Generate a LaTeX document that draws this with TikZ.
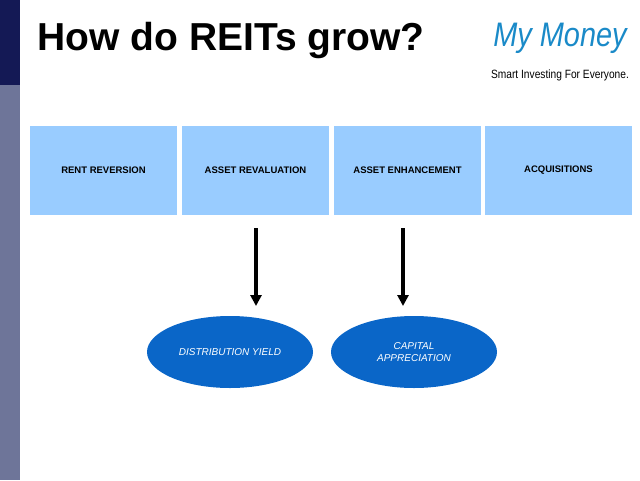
\documentclass[tikz,border=0pt]{standalone}
\usepackage{fontspec}
\setmainfont{Liberation Sans}
\usetikzlibrary{shapes.geometric,arrows.meta}
\definecolor{navy}{HTML}{141955}
\definecolor{slate}{HTML}{6E7599}
\definecolor{boxblue}{HTML}{99CCFF}
\definecolor{ellblue}{HTML}{0A66C8}
\definecolor{logoblue}{HTML}{1A8AC8}
\begin{document}
\begin{tikzpicture}[x=1pt,y=-1pt,
  gbox/.style={fill=boxblue,minimum width=147pt,minimum height=89pt,inner sep=0pt,font=\fontsize{9.5}{11}\selectfont\bfseries,text=black},
  gell/.style={ellipse,fill=ellblue,minimum width=166pt,minimum height=72pt,inner sep=0pt,text=white,font=\fontsize{10}{12}\selectfont\itshape,align=center},
  arr/.style={line width=3.5pt,-{Triangle[length=11pt,width=11pt]}}]
\useasboundingbox (0,0) rectangle (640,480);
\fill[white] (0,0) rectangle (640,480);
\fill[navy] (0,0) rectangle (20,85);
\fill[slate] (0,85) rectangle (20,480);
\node[anchor=west,font=\fontsize{39}{40}\selectfont\bfseries] (title) at (34,40) {How do REITs grow?};
\node[font=\fontsize{34}{36}\selectfont\itshape,text=logoblue,xscale=0.85] (logo) at (560,38) {My Money};
\node[font=\fontsize{12}{13}\selectfont,text=black,xscale=0.85] (tag) at (560,75) {Smart Investing For Everyone.};
\node[gbox] (b1) at (103.5,170.5) {RENT REVERSION};
\node[gbox] (b2) at (255.5,170.5) {ASSET REVALUATION};
\node[gbox] (b3) at (407.5,170.5) {ASSET ENHANCEMENT};
\node[gbox] (b4) at (558.5,170.5) {ACQUISITIONS};
\node[gell] (e1) at (230,352) {DISTRIBUTION YIELD};
\node[gell] (e2) at (414,352) {CAPITAL\\APPRECIATION};
\coordinate (a1s) at (256,228); \coordinate (a1e) at (256,306);
\coordinate (a2s) at (403,228); \coordinate (a2e) at (403,306);
\draw[arr] (a1s) -- (a1e);
\draw[arr] (a2s) -- (a2e);
\end{tikzpicture}
\end{document}
